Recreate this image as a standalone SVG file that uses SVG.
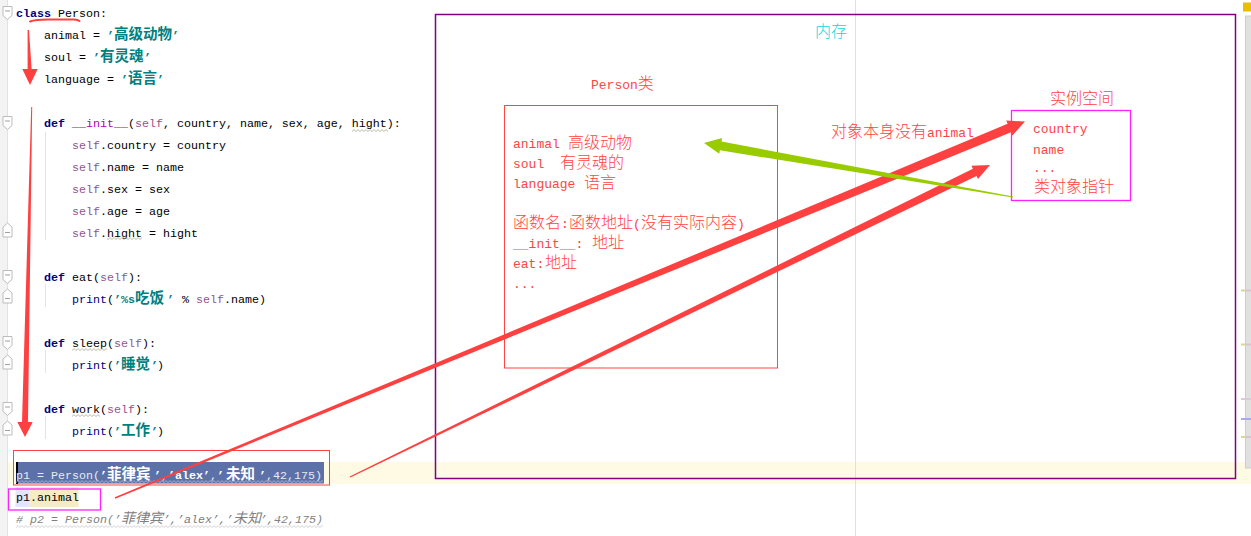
<svg xmlns="http://www.w3.org/2000/svg" width="1251" height="536" viewBox="0 0 1251 536">
<style>
.code{font-family:"Liberation Mono","Noto Sans CJK SC",monospace;font-size:11.67px;fill:#000}
.kw{fill:#000080;font-weight:bold}
.bi{fill:#000080}
.str{fill:#008080;font-weight:bold}
.cjk{font-family:"Noto Sans CJK SC",sans-serif;font-size:14.5px}
.slf{fill:#94558d}
.mag{fill:#b200b2}
.sel{fill:#e8ebf4}
.selb{fill:#ffffff;font-weight:bold}
.cmt{fill:#808080;font-style:italic}
.ann{font-family:"Liberation Mono","Noto Sans CJK SC",monospace;font-size:13px;fill:#ff4444}
.annc{font-family:"Noto Sans CJK SC",sans-serif;font-size:16px;font-weight:300;fill:#ff4444}
.guide{stroke:#e4e4e4;stroke-width:1}
.fold{fill:#fff;stroke:#bcbcbc;stroke-width:1}
.foldm{stroke:#a0a0a0;stroke-width:1}
.redf{fill:#ff4040}
</style>
<defs>
<pattern id="wvg" width="4" height="3" patternUnits="userSpaceOnUse"><path d="M0,2.5 L2,0.6 L4,2.5" fill="none" stroke="#a8a890" stroke-width="0.8"/></pattern>
<pattern id="wvs" width="4" height="3" patternUnits="userSpaceOnUse"><path d="M0,2.5 L2,0.6 L4,2.5" fill="none" stroke="#b4bedc" stroke-width="0.8"/></pattern>
<pattern id="wvc" width="4" height="3" patternUnits="userSpaceOnUse"><path d="M0,2.5 L2,0.6 L4,2.5" fill="none" stroke="#c8c8c8" stroke-width="0.8"/></pattern>
<g id="foldStart"><path class="fold" d="M3,-6.5 H12 V2.5 L7.5,6.5 L3,2.5 Z"/><path class="foldm" d="M5,-2 H10"/></g>
<g id="foldEnd"><path class="fold" d="M3,-6 L7.5,-10 L12,-6 V4 H3 Z"/><path class="foldm" d="M5,-0.5 H10"/></g>
</defs>
<rect x="0" y="0" width="1251" height="536" fill="#ffffff"/>
<g id="editor">
<rect x="0" y="462" width="1251" height="22" fill="#fffae3"/>
<rect x="0" y="0" width="7" height="536" fill="#f3f3f3"/>
<line x1="7.5" y1="0" x2="7.5" y2="536" stroke="#e2e2e2"/>
<line x1="855.5" y1="0" x2="855.5" y2="536" stroke="#e0e0e0"/>
<rect x="1243" y="2.5" width="8" height="9" fill="#e8c000"/>
<rect x="1245.5" y="16" width="6" height="452" fill="#e0e0e0" stroke="#cdcdcd"/>
<rect x="1241" y="289.5" width="5" height="2" fill="#d4d890"/><rect x="1246" y="289.5" width="5" height="2" fill="#d8c4d0"/>
<rect x="1241" y="343.5" width="5" height="2" fill="#d4d890"/><rect x="1246" y="343.5" width="5" height="2" fill="#d8c4d0"/>
<rect x="1241" y="398" width="10" height="2" fill="#dcc8dc"/>
<rect x="1241" y="418" width="10" height="2" fill="#a8a8f0"/>
<rect x="1241" y="436" width="5" height="2" fill="#d4d890"/><rect x="1246" y="436" width="5" height="2" fill="#d8c4d0"/>
<use href="#foldStart" transform="translate(0,13)"/>
<use href="#foldStart" transform="translate(0,123)"/>
<use href="#foldEnd" transform="translate(0,233)"/>
<use href="#foldStart" transform="translate(0,277)"/>
<use href="#foldEnd" transform="translate(0,299)"/>
<use href="#foldStart" transform="translate(0,343)"/>
<use href="#foldEnd" transform="translate(0,365)"/>
<use href="#foldStart" transform="translate(0,409)"/>
<use href="#foldEnd" transform="translate(0,431)"/>
<line class="guide" x1="45.5" y1="132" x2="45.5" y2="240"/>
<line class="guide" x1="45.5" y1="284" x2="45.5" y2="307"/>
<line class="guide" x1="45.5" y1="350" x2="45.5" y2="373"/>
<line class="guide" x1="45.5" y1="416" x2="45.5" y2="439"/>
</g>
<g id="code" class="code">
<text y="17"><tspan x="16" class="kw">class</tspan><tspan x="58">Person:</tspan></text>
<text y="39"><tspan x="44">animal = </tspan><tspan x="107" class="str">’</tspan><tspan x="114" class="str cjk">高级动物</tspan><tspan x="172" class="str">’</tspan></text>
<text y="61"><tspan x="44">soul = </tspan><tspan x="93" class="str">’</tspan><tspan x="100" class="str cjk">有灵魂</tspan><tspan x="144" class="str">’</tspan></text>
<text y="83"><tspan x="44">language = </tspan><tspan x="121" class="str">’</tspan><tspan x="128" class="str cjk">语言</tspan><tspan x="157" class="str">’</tspan></text>
<text y="127"><tspan x="44" class="kw">def</tspan><tspan x="72" class="mag">__init__</tspan><tspan>(</tspan><tspan class="slf">self</tspan><tspan>, country, name, sex, age, hight):</tspan></text>
<text y="149"><tspan x="72" class="slf">self</tspan><tspan>.country = country</tspan></text>
<text y="171"><tspan x="72" class="slf">self</tspan><tspan>.name = name</tspan></text>
<text y="193"><tspan x="72" class="slf">self</tspan><tspan>.sex = sex</tspan></text>
<text y="215"><tspan x="72" class="slf">self</tspan><tspan>.age = age</tspan></text>
<text y="237"><tspan x="72" class="slf">self</tspan><tspan>.hight = hight</tspan></text>
<text y="281"><tspan x="44" class="kw">def</tspan><tspan x="72">eat(</tspan><tspan class="slf">self</tspan><tspan>):</tspan></text>
<text y="303"><tspan x="72" class="bi">print</tspan><tspan>(</tspan><tspan x="114" class="str">’%s</tspan><tspan x="135" class="str cjk">吃饭</tspan><tspan x="167" class="str">’</tspan><tspan x="182">%</tspan><tspan x="196" class="slf">self</tspan><tspan>.name)</tspan></text>
<text y="347"><tspan x="44" class="kw">def</tspan><tspan x="72">sleep(</tspan><tspan class="slf">self</tspan><tspan>):</tspan></text>
<text y="369"><tspan x="72" class="bi">print</tspan><tspan>(</tspan><tspan x="114" class="str">’</tspan><tspan x="121" class="str cjk">睡觉</tspan><tspan x="151" class="str">’</tspan><tspan x="157">)</tspan></text>
<text y="413"><tspan x="44" class="kw">def</tspan><tspan x="72">work(</tspan><tspan class="slf">self</tspan><tspan>):</tspan></text>
<text y="435"><tspan x="72" class="bi">print</tspan><tspan>(</tspan><tspan x="114" class="str">’</tspan><tspan x="121" class="str cjk">工作</tspan><tspan x="151" class="str">’</tspan><tspan x="157">)</tspan></text>
<rect x="352" y="129" width="36" height="3" fill="url(#wvg)"/>
<rect x="107" y="237" width="35" height="3" fill="url(#wvg)"/>
<rect x="72" y="348" width="35" height="3" fill="url(#wvg)"/>
<rect x="72" y="414" width="28" height="3" fill="url(#wvg)"/>
<rect x="16" y="462" width="308" height="21.5" fill="#5b71a7"/>
<rect x="16" y="462" width="2" height="22" fill="#000"/>
<text y="479"><tspan x="16" class="sel">p1 = Person(</tspan><tspan x="100" class="selb">’</tspan><tspan x="107" class="selb cjk">菲律宾</tspan><tspan x="154" class="selb">’</tspan><tspan class="sel">,</tspan><tspan class="selb">’alex’</tspan><tspan class="sel">,</tspan><tspan class="selb">’</tspan><tspan x="226" class="selb cjk">未知</tspan><tspan x="259" class="selb">’</tspan><tspan class="sel">,42,175)</tspan></text>
<rect x="16" y="480" width="307" height="3" fill="url(#wvs)"/>
<rect x="15.5" y="487" width="14" height="20" fill="#e4e4ff"/>
<rect x="29.5" y="487" width="49" height="20" fill="#f6ebc4"/>
<text y="501"><tspan x="16">p1.animal</tspan></text>
</g>
<g id="comment-line" class="code">
<text y="523" class="cmt"><tspan x="16"># p2 = Person(’</tspan><tspan x="121" class="cjk" style="font-size:14px">菲律宾</tspan><tspan x="163">’,’alex’,’</tspan><tspan x="233" class="cjk" style="font-size:14px">未知</tspan><tspan x="260">’,42,175)</tspan></text>
<rect x="16" y="525" width="307" height="3" fill="url(#wvc)"/>
</g>
<g id="memory">
<rect x="435.5" y="14.5" width="800" height="464" fill="none" stroke="#800080" stroke-width="1.5"/>
<text x="815" y="37" style="font-family:'Noto Sans CJK SC',sans-serif;font-size:16px;font-weight:300;fill:#14d6e0">内存</text>
</g>
<g id="person-class">
<text x="591" y="89" class="ann">Person<tspan class="annc">类</tspan></text>
<rect x="504.5" y="105.5" width="273" height="262.5" fill="none" stroke="#ff4444" stroke-width="1"/>
<text y="148" class="ann"><tspan x="513">animal</tspan><tspan x="568" class="annc">高级动物</tspan></text>
<text y="168" class="ann"><tspan x="513">soul</tspan><tspan x="560" class="annc">有灵魂的</tspan></text>
<text y="188" class="ann"><tspan x="513">language</tspan><tspan x="584" class="annc">语言</tspan></text>
<text y="228" class="ann"><tspan x="513" class="annc">函数名</tspan><tspan x="561">:</tspan><tspan x="569" class="annc">函数地址</tspan><tspan x="633">(</tspan><tspan x="641" class="annc">没有实际内容</tspan><tspan x="737">)</tspan></text>
<text y="248" class="ann"><tspan x="513">__init__:</tspan><tspan x="592" class="annc">地址</tspan></text>
<text y="268" class="ann"><tspan x="513">eat:</tspan><tspan x="545" class="annc">地址</tspan></text>
<text x="513" y="288" class="ann">...</text>
</g>
<g id="instance-space">
<text x="1050" y="104" class="annc">实例空间</text>
<rect x="1011.5" y="110.5" width="119" height="90" fill="none" stroke="#ff22ff" stroke-width="1.3"/>
<text x="1033" y="133" class="ann">country</text>
<text x="1033" y="154" class="ann">name</text>
<text x="1033" y="172" class="ann">...</text>
<text x="1034" y="192" class="annc">类对象指针</text>
</g>
<g id="note">
<text x="831" y="137" class="annc">对象本身没有<tspan class="ann">animal</tspan></text>
</g>
<g id="p1-boxes">
<rect x="13.5" y="450.5" width="316" height="34.5" fill="none" stroke="#ff4040" stroke-width="1"/>
<rect x="8.5" y="489" width="92" height="21" fill="none" stroke="#ff22ff" stroke-width="1.3"/>
</g>
<g id="connectors">
<path d="M30,21.5 Q36,19.3 50,19.5 L74,19.6 Q78,20 79.5,21" fill="none" stroke="#ff4040" stroke-width="2" stroke-linecap="round"/>
<polygon class="redf" points="27.6,30 29,30 31.6,69 37.7,69 30,85 22.3,69 27.6,69"/>
<polygon class="redf" points="31.2,107 32.2,107 28,422 32.7,422 25,437 17.3,422 22,422"/>
<polygon class="redf" points="1025,121.5 1006.2,120.6 1007.6,123.8 114.7,497.3 115.3,498.7 1011,132.2 1012.4,135.4"/>
<polygon class="redf" points="990,165 971.4,165.7 972.9,168.8 349.7,476.4 350.3,477.6 976.5,176 978,179.1"/>
<polygon fill="#99cc00" points="704,143 722.1,138 721.5,141.5 1013.1,196.4 1012.9,197.6 719.9,150.3 719.3,153.8"/>
</g>
</svg>
